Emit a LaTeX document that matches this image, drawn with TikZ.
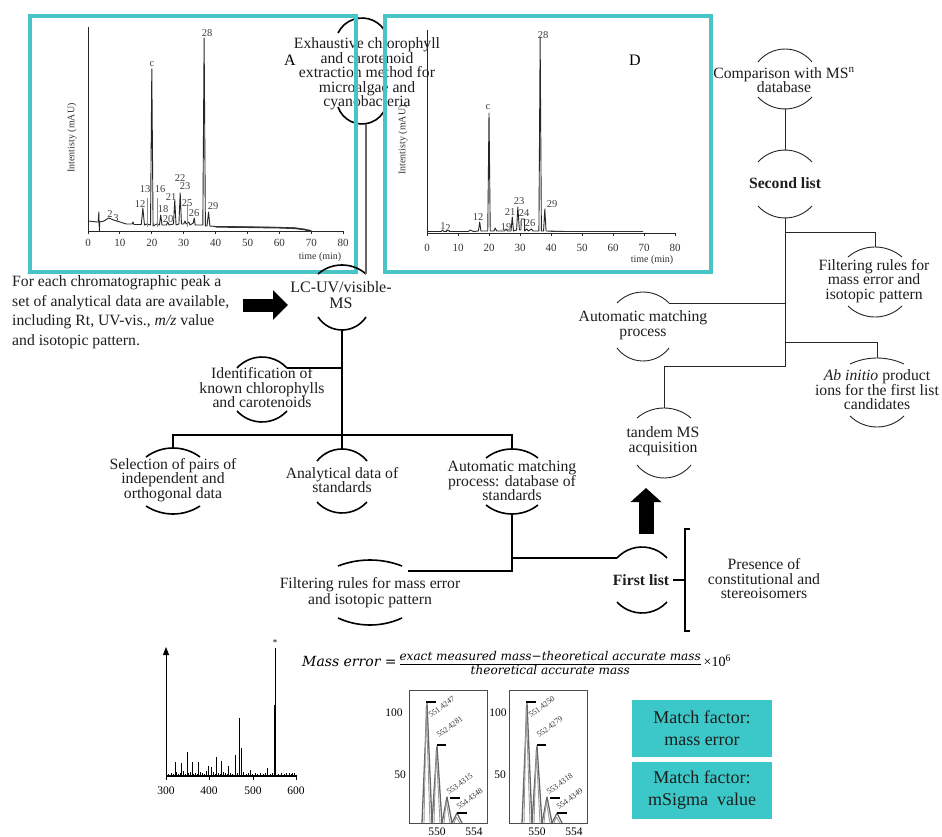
\documentclass[tikz,border=0pt]{standalone}
\usepackage{fontspec}
\setmainfont{Liberation Serif}
\newfontfamily\dvs{DejaVu Serif}
\usetikzlibrary{arrows.meta,calc}
\definecolor{cyb}{RGB}{70,196,198}
\definecolor{cyf}{RGB}{60,200,200}
\definecolor{txtc}{RGB}{30,30,30}

% #1 style, #2 name, #3 cx, #4 top ends y, #5 top apex y, #6 bottom ends y, #7 bottom apex y, #8 half width
\newcommand\capsule[8]{%
  \pgfmathsetmacro\capH{#4-#5}%
  \pgfmathsetmacro\capR{(#8*#8+\capH*\capH)/(2*\capH)}%
  \pgfmathsetmacro\capA{asin(#8/\capR)}%
  \coordinate (#2-tl) at (#3-#8,-#4);
  \coordinate (#2-tr) at (#3+#8,-#4);
  \coordinate (#2-t) at (#3,-#5);
  \draw[#1] (#2-tl) arc[start angle=90+\capA, end angle=90-\capA, radius=\capR pt];
  \pgfmathsetmacro\capH{#7-#6}%
  \pgfmathsetmacro\capR{(#8*#8+\capH*\capH)/(2*\capH)}%
  \pgfmathsetmacro\capA{asin(#8/\capR)}%
  \coordinate (#2-bl) at (#3-#8,-#6);
  \coordinate (#2-br) at (#3+#8,-#6);
  \coordinate (#2-b) at (#3,-#7);
  \draw[#1] (#2-bl) arc[start angle=270-\capA, end angle=270+\capA, radius=\capR pt];
}

\tikzset{
  fl/.style={inner sep=0pt, align=center, font=\fontsize{15.7}{14.5}\selectfont, text=txtc},
  arcL/.style={line width=1.6pt},
  arcR/.style={line width=0.9pt, draw=black!85},
  lnkL/.style={line width=1.8pt},
  lnkR/.style={line width=0.9pt, draw=black!85},
  ax/.style={line width=0.9pt, draw=black!85},
  trace/.style={line width=0.9pt, draw=black!85, line join=round},
  ticklab/.style={inner sep=0pt, font=\fontsize{11}{11}\selectfont, text=black!80},
  plab/.style={inner sep=0pt, font=\fontsize{10.5}{10.5}\selectfont, text=black!75},
  small/.style={inner sep=0pt, font=\fontsize{10}{10}\selectfont, text=black!80},
  cybox/.style={draw=cyb, line width=3.5pt},
  mfbox/.style={fill=cyf, inner sep=0pt, minimum width=140pt, minimum height=57pt, align=center, font=\fontsize{18}{22}\selectfont, text=txtc},
  isobox/.style={draw=black!70, line width=1pt},
  isopk/.style={draw=black!60, line width=1.3pt, line join=round},
  isobar/.style={line width=1.8pt},
  isolab/.style={inner sep=0pt, anchor=base west, rotate=36, font=\fontsize{8}{8}\selectfont, text=black!80},
}

\begin{document}
\begin{tikzpicture}[x=1pt,y=1pt]
\useasboundingbox (0,0) rectangle (942,-837);
\fill[white] (0,0) rectangle (942,-837);

% ---------- Exhaustive node (under the cyan frames)
\node[fl] (exh) at (367,-74) {Exhaustive chlorophyll\\and carotenoid\\extraction method for\\microalgae and\\cyanobacteria};
\capsule{arcL}{Exh}{362}{33}{18}{107}{124}{24}

% ---------- Chromatogram A
\begin{scope}[shift={(88,-231)}, x=3.19pt, y=1pt]
  \draw[ax] (0,204) -- (0,0) -- (80,0);
  \foreach \tm in {0,10,...,80} {\draw[ax] (\tm,0) -- (\tm,-2.5); \node[ticklab] at (\tm,-12) {\tm};}
  \draw[trace] (0,10) -- (1.5,9.5) -- (2.8,9) -- (3.2,9) -- (3.4,19) -- (3.55,0) -- (3.7,9) -- (5,10) -- (6.5,13) -- (8,11) -- (10,9) -- (12,7) -- (13.8,7) -- (14.1,9) -- (14.4,6.5) -- (16.7,6.5) -- (17.2,23) -- (17.7,6) -- (18.5,7) -- (19.6,6) -- (20,162) -- (20.4,5) -- (21.5,7) -- (22.4,6) -- (22.8,16) -- (23.2,6) -- (24.6,6) -- (25,9) -- (25.4,6) -- (26.8,7) -- (27.2,31) -- (27.6,6) -- (28.5,7) -- (28.9,38) -- (29.3,7) -- (30,7) -- (30.4,10) -- (30.8,7) -- (31.6,9) -- (32,6) -- (33,8) -- (33.3,13) -- (33.6,6) -- (36,6) -- (36.4,193) -- (36.8,5) -- (37.3,5) -- (37.8,19) -- (38.2,5) -- (40,4.5) -- (50,4) -- (60,3.5) -- (65,3) -- (68,1.5) -- (70,0);
  \draw[line width=1.6pt, black!80] (40,4.2) -- (50,3.8) -- (60,3.3) -- (65,2.7) -- (68,1.4) -- (70,0);
  \draw[black!45, line width=0.6pt] (18.5,4) -- (18.5,33) (21.6,4) -- (21.6,33) (31.2,4) -- (31.2,27);
\end{scope}
\node[small] (tA) at (320,-257) {time (min)};
\node[small, rotate=90] (yA) at (72,-138) {Intentisty (mAU)};
\node[inner sep=0pt, font=\fontsize{16}{16}\selectfont] (lA) at (290,-60) {A};
\foreach \lab/\px/\py in {2/110/214, 3/116/218, 12/140/204, 13/145/189, c/152/64, 16/160/189, 18/163/209, 20/168/219, 21/171/197, 22/180/178, 23/185/186, 25/187/203, 26/194/213, 28/207/33, 29/213/206}
  \node[plab] at (\px,-\py) {\lab};

% ---------- Chromatogram D
\begin{scope}[shift={(427,-233)}, x=3.1pt, y=1pt]
  \draw[ax] (0,203) -- (0,0) -- (80,0);
  \foreach \tm in {0,10,...,80} {\draw[ax] (\tm,0) -- (\tm,-2.5); \node[ticklab] at (\tm,-15) {\tm};}
  \draw[trace] (0,1.5) -- (4.6,1.5) -- (5,3) -- (5.5,1.5) -- (6.3,1.5) -- (6.8,3) -- (7.3,1.5) -- (13.3,1.5) -- (14,3) -- (15,1.5) -- (16.6,2) -- (17,11) -- (17.4,2) -- (19.6,2) -- (20,120) -- (20.4,2) -- (21.6,2) -- (22,5) -- (22.5,2) -- (25,2) -- (25.5,4) -- (26,2) -- (27.1,2) -- (27.5,16) -- (27.9,2) -- (28.9,3) -- (29.3,26) -- (29.8,3) -- (30.3,3) -- (30.4,14) -- (31.4,14) -- (31.5,2) -- (32.2,4) -- (32.7,2) -- (33.7,4) -- (34.2,2) -- (36.1,2) -- (36.5,196) -- (36.9,2) -- (37.6,2) -- (38,24) -- (38.4,2) -- (45,1.5) -- (69.7,1.5);
  \draw[line width=1.5pt, black!80] (40,1.5) -- (69.7,1.5);
\end{scope}
\node[small] (tD) at (652,-260) {time (min)};
\node[small, rotate=90] (yD) at (403,-140) {Intentisty (mAU)};
\node[inner sep=0pt, font=\fontsize{16}{16}\selectfont] (lD) at (635,-60) {D};
\foreach \lab/\px/\py in {1/443/226, 2/448/228, 12/478/217, c/488/107, 19/506/227, 21/510/212, 23/519/201, 24/524/213, 26/530/223, 28/543/35, 29/552/204}
  \node[plab] at (\px,-\py) {\lab};

% ---------- cyan frames
\draw[cybox] (30,-16) rectangle (356,-272);
\draw[cybox] (385,-16) rectangle (711,-272);

% ---------- left tree
\node[fl, font=\fontsize{16}{16}\selectfont] (lc) at (341,-295) {LC-UV/visible-\\MS};
\capsule{arcL}{LC}{342}{274}{265}{317}{330}{24}
\draw[black!60, line width=1.3pt] (LC-tr) -- (LC-tr |- Exh-b);

\node[inner sep=0pt, anchor=west, align=left, font=\fontsize{15.7}{19.5}\selectfont, text=txtc] (info) at (12,-312) {For each chromatographic peak a\\set of analytical data are available,\\including Rt, UV-vis., \textit{m/z} value\\and isotopic pattern.};
\coordinate (arL1) at (243,-305);
\coordinate (arL2) at (288,-305);
\draw[line width=13pt, -{Triangle[width=29pt,length=15pt]}] (arL1) -- (arL2);

\node[fl] (ident) at (262,-388) {Identification of\\known chlorophylls\\and carotenoids};
\capsule{arcL}{Ident}{262}{368}{357}{411}{422}{25}

\node[fl] (sel) at (173,-480) {Selection of pairs of\\independent and\\orthogonal data};
\capsule{arcL}{Sel}{173}{457}{448}{506}{514}{27}
\node[fl] (anal) at (342,-480) {Analytical data of\\standards};
\capsule{arcL}{Anal}{342}{461}{449}{502}{513}{25}
\node[fl] (autoS) at (512,-481) {Automatic matching\\process: database of\\standards};
\capsule{arcL}{AutoS}{512}{458}{449}{505}{514}{26}

\node[fl, font=\fontsize{15.7}{16}\selectfont] (filtM) at (370,-593) {Filtering rules for mass error\\and isotopic pattern};
\capsule{arcL}{FiltM}{370}{566}{560}{618}{625}{32}

\coordinate (bar) at (342,-435);
\coordinate (fmEnd) at (408,-571);
\draw[lnkL] (LC-b) -- (bar);
\draw[lnkL] (Ident-tr) -- (Ident-tr -| LC-b);
\draw[lnkL] (Sel-t) -- (Sel-t |- bar) -- (AutoS-t |- bar) -- (AutoS-t);
\draw[lnkL] (Anal-t) -- (Anal-t |- bar);
\draw[lnkL] (AutoS-b) |- (fmEnd);

% ---------- first list
\node[fl, font=\bfseries\fontsize{15.7}{16}\selectfont] (first) at (641,-580) {First list};
\capsule{arcL}{First}{642}{558}{547}{602}{613}{25}
\draw[line width=1.4pt] (AutoS-b |- First-tl) -- (First-tl);
\coordinate (brM) at (685,-580);
\coordinate (brT) at (690,-529);
\coordinate (brB) at (690,-631);
\draw[line width=1.2pt] ([xshift=4pt]first.east) -- (brM);
\draw[line width=1.4pt] (brT) -- (brT -| brM) -- (brB -| brM) -- (brB);
\node[fl] (pres) at (764,-579) {Presence of\\constitutional and\\stereoisomers};

\coordinate (arU1) at (646,-534);
\coordinate (arU2) at (646,-488);
\draw[line width=15pt, -{Triangle[width=30pt,length=14pt]}] (arU1) -- (arU2);

% ---------- right tree
\node[fl] (comp) at (784,-80) {Comparison with MS\textsuperscript{n}\\database};
\capsule{arcR}{Comp}{785}{62}{49}{97}{109}{27}
\node[fl, font=\bfseries\fontsize{15.7}{16}\selectfont] (sec) at (785,-183) {Second list};
\capsule{arcR}{Sec}{785}{162}{150}{206}{218}{27}
\node[fl] (filtR) at (874,-281) {Filtering rules for\\mass error and\\isotopic pattern};
\capsule{arcR}{FiltR}{875}{257}{247}{306}{317}{27}
\node[fl] (autoR) at (643,-325) {Automatic matching\\process};
\capsule{arcR}{AutoR}{643}{303}{292}{348}{361}{26}
\node[fl] (abI) at (877,-390) {\textit{Ab initio} product\\ions for the first list\\candidates};
\capsule{arcR}{AbI}{877}{364}{358}{416}{427}{27}
\node[fl] (tand) at (663,-441) {tandem MS\\acquisition};
\capsule{arcR}{Tand}{664}{418}{408}{465}{478}{27}

\coordinate (j1) at (785,-232);
\coordinate (j3) at (785,-342);
\coordinate (j4) at (785,-366);
\draw[lnkR] (Comp-b) -- (Sec-t);
\draw[lnkR] (Sec-b) -- (j4) -| (Tand-t);
\draw[lnkR] (j1) -| (FiltR-t);
\draw[lnkR] (j3) -| (AbI-t);
\draw[lnkR] (AutoR-tr) -- (AutoR-tr -| j1);

% ---------- mass spectrum
\draw[line width=1.8pt] (166,-776) -- (297,-776);
\foreach \x in {166,209,253,296} \draw[line width=1pt] (\x,-776) -- (\x,-780);
\draw[line width=1pt, -{Triangle[length=8pt,width=6pt]}] (166,-776) -- (166,-647);
\foreach \x/\h in {168/2,171/3,173/2,176/4,178/2,180/3,183/5,185/2,188/3,190/4,193/2,195/3,197/2,200/4,202/3,204/2,206/5,213/4,215/2,218/3,220/2,223/4,225/3,227/2,230/3,232/2,237/3,243/4,246/2,248/3,252/2,255/3,257/2,260/3,263/2,265/3,270/2,272/3,278/2,281/3,284/2,289/3,291/2,294/3}
  \draw[line width=0.8pt] (\x,-776) -- (\x,-776+\h);
\foreach \x/\y in {175/762,181/763,187/752,192/762,198/762,208/766,211/767,216/757,221/761,228/766,235/755,239/718,241/748,250/770,267/768,286/773,292/773}
  \draw[line width=1pt] (\x,-776) -- (\x,-\y);
\draw[line width=0.8pt] (275,-776) -- (275,-648);
\draw[line width=1.6pt] (275,-776) -- (275,-705);
\node[inner sep=0pt, font=\fontsize{9}{9}\selectfont] (ast) at (275,-643) {*};
\foreach \x/\lab in {166/300,209/400,253/500,296/600}
  \node[inner sep=0pt, font=\fontsize{11.5}{11.5}\selectfont] at (\x,-791) {\lab};

% ---------- mass error formula
\node[anchor=west, inner sep=0pt] (merr) at (302,-663) {{\dvs\itshape\fontsize{14}{16}\selectfont Mass error =}\,$\displaystyle\frac{\hbox{\dvs\itshape\fontsize{12.1}{13}\selectfont exact measured mass−theoretical accurate mass}}{\hbox{\dvs\itshape\fontsize{12.1}{13}\selectfont theoretical accurate mass}}$\,{\fontsize{14}{16}\selectfont ×10\textsuperscript{6}}};

% ---------- isotope plots
\foreach \dx/\la/\lb/\lc/\ld in {0/551.4247/552.4281/553.4315/554.4348, 100/551.4250/552.4279/553.4318/554.4349}{
  \begin{scope}[shift={(\dx,0)}]
    \draw[isobox] (409,-690) rectangle (487,-823);
    \foreach \px/\py in {427/703, 437/746, 447/797, 457/813}{
      \draw[isopk] (\px-5,-823) -- (\px,-\py) -- (\px+5,-823);
      \draw[isopk, black!40, line width=0.9pt] (\px-3,-823) -- (\px-0.8,-\py-4) -- (\px+3,-823);
    }
    \draw[isobar] (426,-702) -- (436,-702);
    \draw[isobar] (437,-745) -- (446,-745);
    \draw[isobar] (450,-798) -- (460,-798);
    \draw[isobar] (457,-813) -- (467,-813);
    \node[isolab] at (431,-718) {\la};
    \node[isolab] at (439,-738) {\lb};
    \node[isolab] at (449,-795) {\lc};
    \node[isolab] at (459,-810) {\ld};
    \node[inner sep=0pt, font=\fontsize{11.5}{11.5}\selectfont] at (437,-832) {550};
    \node[inner sep=0pt, font=\fontsize{11.5}{11.5}\selectfont] at (474,-832) {554};
  \end{scope}
}
\node[inner sep=0pt, font=\fontsize{11.5}{11.5}\selectfont] (y100a) at (394,-713) {100};
\node[inner sep=0pt, font=\fontsize{11.5}{11.5}\selectfont] (y50a) at (400,-775) {50};
\node[inner sep=0pt, font=\fontsize{11.5}{11.5}\selectfont] (y100b) at (498,-713) {100};
\node[inner sep=0pt, font=\fontsize{11.5}{11.5}\selectfont] (y50b) at (500,-775) {50};

% ---------- match factor boxes
\node[mfbox] (mf1) at (702,-728) {Match factor:\\mass error};
\node[mfbox] (mf2) at (702,-790.5) {Match factor:\\mSigma\ \ value};
\end{tikzpicture}
\end{document}
